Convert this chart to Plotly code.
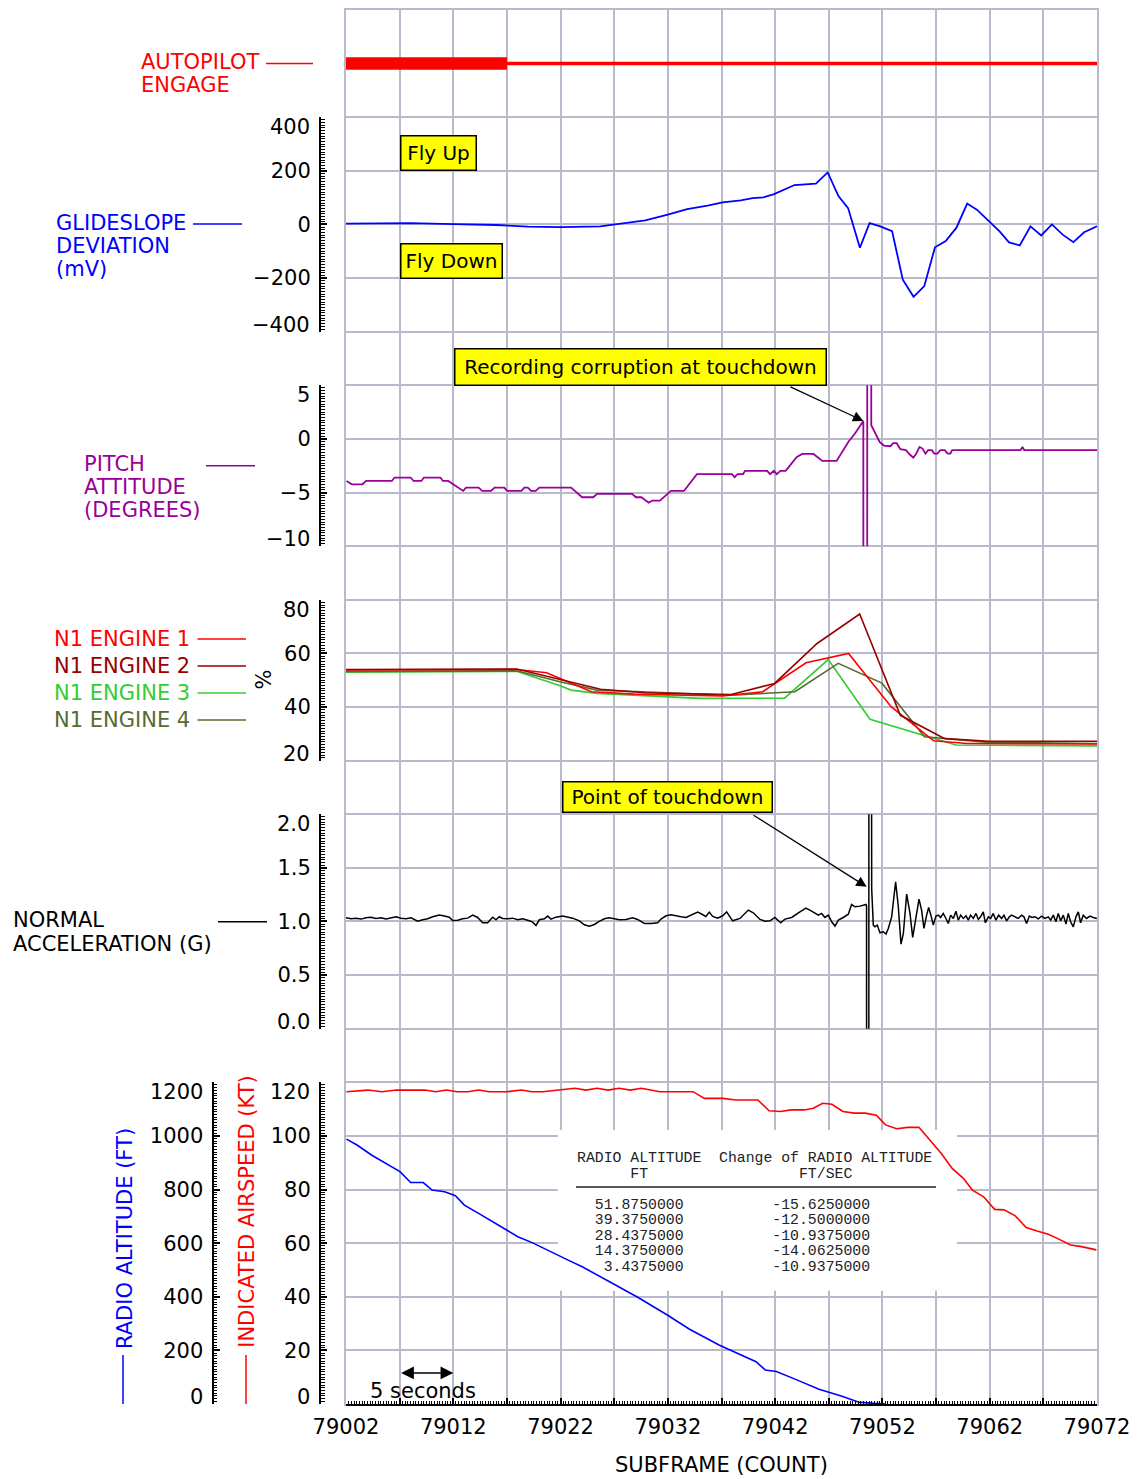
import plotly.graph_objects as go

# ---------------------------------------------------------------- data
subframe_range = [79002, 79072]
subframe_ticks = list(range(79002, 79073, 5))

autopilot_engaged_x = [79002, 79017]
autopilot_off_x = [79017, 79072]
autopilot_level = [1, 1]

gs_x = [79002, 79005, 79008, 79012, 79016, 79019, 79022, 79025.7, 79027, 79029.9, 79031.9,
        79033.8, 79035.7, 79037.1, 79038.8, 79039.9, 79040.9, 79041.9, 79043.8, 79045.8,
        79046.9, 79047.9, 79048.8, 79049.9, 79050.8, 79051.8, 79052.9, 79053.9, 79054.9,
        79055.9, 79056.9, 79057.9, 79058.9, 79059.9, 79060.8, 79061.9, 79062.9, 79063.8,
        79064.8, 79065.8, 79066.8, 79067.8, 79068.8, 79069.8, 79070.8, 79072]
gs_mv = [3, 5, 5, 1, -2, -8, -10, -7, -1, 15, 36,
         57, 70, 82, 90, 98, 101, 113, 147, 152,
         194, 106, 61, -87, 5, -7, -25, -206, -270,
         -230, -85, -62, -12, 78, 55, 15, -25, -67,
         -78, -7, -41, 0, -38, -66, -29, -7]

pitch_x = [79002.04, 79002.54, 79003.54, 79003.87, 79006.27, 79006.53, 79008.03, 79008.30,
           79009.03, 79009.26, 79010.80, 79011.03, 79011.53, 79012.03, 79012.92, 79013.19,
           79014.36, 79014.69, 79015.52, 79015.85, 79016.75, 79017.02, 79018.35, 79018.62,
           79018.95, 79019.25, 79019.68, 79020.02, 79022.98, 79023.33, 79024.01, 79025.05,
           79025.39, 79028.67, 79029.02, 79029.53, 79030.22, 79030.57, 79031.26, 79032.29,
           79033.50, 79034.71, 79037.98, 79038.22, 79038.50, 79039.01, 79039.19, 79041.26,
           79041.53, 79041.88, 79042.15, 79042.50, 79042.98, 79044.02, 79044.53, 79045.57,
           79046.08, 79046.40, 79047.73, 79048.35, 79048.82, 79049.44, 79050.22, 79050.23,
           79050.58, 79050.59, 79050.95, 79050.96, 79051.21, 79051.46, 79051.75, 79052.15,
           79052.75, 79053.00, 79053.33, 79053.67, 79054.19, 79054.53, 79054.88, 79055.12,
           79055.46, 79055.74, 79056.01, 79056.26, 79056.60, 79056.84, 79057.12, 79057.40,
           79057.81, 79058.08, 79058.33, 79058.50, 79064.88, 79065.05, 79065.22, 79072.00]
pitch_deg = [-3.92, -4.23, -4.23, -3.92, -3.92, -3.60, -3.60, -3.92,
             -3.92, -3.60, -3.60, -3.92, -3.92, -4.23, -4.85, -4.54,
             -4.54, -4.85, -4.85, -4.54, -4.54, -4.85, -4.85, -4.54,
             -4.54, -4.85, -4.85, -4.54, -4.54, -4.85, -5.44, -5.44,
             -5.13, -5.13, -5.44, -5.44, -5.94, -5.75, -5.75, -4.85,
             -4.85, -3.29, -3.29, -3.57, -3.29, -3.29, -2.98, -2.98,
             -3.29, -2.98, -3.29, -2.98, -2.98, -1.68, -1.40, -1.40,
             -1.83, -2.05, -2.05, -1.05, -0.28, 0.50, 1.68, -40,
             -40, 40, 40, 1.28, 0.75, 0.25, -0.30, -0.62,
             -0.68, -0.40, -0.40, -0.96, -1.05, -1.43, -1.74, -1.43,
             -0.75, -0.90, -1.37, -1.05, -1.05, -1.37, -1.37, -1.05,
             -1.05, -1.37, -1.37, -1.05, -1.05, -0.75, -1.05, -1.05]

n1_eng1_x = [79002, 79010, 79017.9, 79020.7, 79024.88, 79028.84, 79037.12, 79040.84, 79044.88,
             79048.84, 79052.81, 79056.77, 79059.88, 79072]
n1_eng1 = [53.8, 54.0, 54.0, 52.8, 45.7, 44.8, 44.1, 45.7, 56.5, 60.0, 40.1, 27.4, 26.4, 26.2]
n1_eng2_x = [79002, 79010, 79017.9, 79025.74, 79029.88, 79037.81, 79041.95, 79045.91, 79049.88,
             79053.67, 79057.81, 79061.95, 79072]
n1_eng2 = [54.0, 54.2, 54.2, 46.6, 45.3, 44.6, 48.8, 63.7, 74.7, 36.9, 28.2, 27.2, 27.2]
n1_eng3_x = [79002, 79017.9, 79021.95, 79022.98, 79025.39, 79035.05, 79042.88, 79046.95, 79050.84,
             79055.91, 79058.84, 79072]
n1_eng3 = [53.0, 53.3, 47.9, 46.3, 45.1, 43.2, 43.3, 57.7, 35.4, 29.5, 25.8, 25.5]
n1_eng4_x = [79002, 79017.9, 79021.95, 79025.4, 79037.81, 79043.84, 79047.88, 79051.95, 79055.91,
             79061.95, 79072]
n1_eng4 = [53.3, 53.5, 49.4, 46.3, 44.4, 45.7, 56.3, 48.9, 28.9, 26.8, 26.4]

nz_x = [79002.00, 79002.47, 79002.93, 79003.40, 79003.86, 79004.33, 79004.80, 79005.26, 79005.73,
        79006.19, 79006.66, 79007.13, 79007.59, 79008.06, 79008.68, 79009.15, 79009.61, 79010.08,
        79010.70, 79011.17, 79011.63, 79011.94, 79012.41, 79012.87, 79013.34, 79013.81, 79014.27,
        79014.74, 79015.20, 79015.67, 79015.98, 79016.29, 79016.60, 79017.07, 79017.53, 79018.00,
        79018.47, 79019.09, 79019.40, 79019.71, 79020.02, 79020.49, 79020.80, 79021.11, 79021.57,
        79022.19, 79022.66, 79023.13, 79023.75, 79024.21, 79024.68, 79025.15, 79025.61, 79026.08,
        79026.54, 79027.01, 79027.48, 79028.10, 79028.72, 79029.18, 79029.81, 79030.43, 79031.05,
        79031.36, 79031.83, 79032.29, 79032.76, 79033.22, 79033.69, 79034.16, 79034.78, 79035.09,
        79035.55, 79035.86, 79036.18, 79036.64, 79037.11, 79037.48, 79038.04, 79038.72, 79039.50,
        79039.96, 79040.59, 79041.05, 79041.52, 79041.98, 79042.51, 79042.92, 79043.54, 79044.31,
        79044.87, 79045.40, 79046.02, 79046.33, 79046.64, 79046.96, 79047.27, 79047.58, 79047.89,
        79048.35, 79048.82, 79049.13, 79049.44, 79049.91, 79050.47, 79050.52, 79050.53, 79050.73,
        79050.74, 79050.92, 79051.00, 79051.15, 79051.30, 79051.52, 79051.77, 79052.08, 79052.33,
        79052.55, 79052.86, 79053.23, 79053.48, 79053.73, 79053.95, 79054.26, 79054.57, 79054.82,
        79055.13, 79055.41, 79055.65, 79055.87, 79056.12, 79056.31, 79056.56, 79056.74, 79056.99,
        79057.21, 79057.43, 79057.67, 79057.92, 79058.14, 79058.36, 79058.61, 79058.85, 79059.07,
        79059.29, 79059.54, 79059.79, 79060.00, 79060.22, 79060.47, 79060.72, 79060.94, 79061.15,
        79061.40, 79061.59, 79061.87, 79062.09, 79062.33, 79062.58, 79062.83, 79063.11, 79063.33,
        79063.58, 79063.83, 79064.04, 79064.35, 79064.66, 79064.97, 79065.19, 79065.44, 79065.69,
        79065.94, 79066.22, 79066.53, 79066.84, 79067.15, 79067.46, 79067.68, 79067.93, 79068.17,
        79068.39, 79068.61, 79068.86, 79069.11, 79069.32, 79069.54, 79069.79, 79070.04, 79070.26,
        79070.47, 79070.72, 79071.03, 79071.34, 79071.65, 79071.99]
nz_g = [1.034, 1.025, 1.031, 1.022, 1.034, 1.040, 1.028, 1.034, 1.022,
        1.034, 1.044, 1.031, 1.025, 1.034, 1.003, 1.016, 1.025, 1.044,
        1.059, 1.050, 1.040, 1.009, 1.012, 1.025, 1.031, 1.059, 1.037,
        0.988, 0.988, 1.040, 1.016, 1.044, 1.028, 1.025, 1.031, 1.016,
        1.025, 1.006, 0.994, 0.963, 1.016, 1.025, 1.050, 1.022, 1.040,
        1.050, 1.037, 1.031, 1.006, 0.969, 0.956, 0.972, 1.000, 1.025,
        1.034, 1.022, 1.016, 1.019, 1.034, 1.019, 0.981, 0.981, 0.988,
        1.022, 1.053, 1.062, 1.050, 1.044, 1.037, 1.059, 1.087, 1.072,
        1.047, 1.087, 1.047, 1.031, 1.053, 1.090, 1.006, 1.028, 1.106,
        1.081, 1.019, 1.003, 1.006, 1.037, 0.988, 1.022, 1.037, 1.090,
        1.124, 1.096, 1.059, 1.075, 1.037, 1.059, 0.997, 0.957, 1.012,
        1.037, 1.068, 1.158, 1.137, 1.143, 1.158, 1.140, -3.0, -3.0,
        5.0, 8.0, 1.300, 0.966, 0.950, 0.966, 0.894, 0.904, 0.882,
        0.935, 1.043, 1.370, 1.137, 0.789, 0.888, 1.255, 1.075, 0.851,
        1.043, 1.208, 1.106, 0.935, 1.059, 1.130, 1.043, 0.966, 1.050,
        1.059, 1.037, 1.075, 1.028, 0.981, 1.059, 1.028, 1.096, 1.012,
        1.059, 1.028, 1.053, 1.012, 1.059, 1.028, 1.075, 1.019, 1.043,
        1.090, 0.988, 1.043, 1.028, 1.075, 1.012, 1.059, 1.028, 1.059,
        1.006, 1.043, 1.059, 1.043, 1.028, 1.059, 1.043, 0.981, 1.050,
        1.037, 1.043, 1.025, 1.050, 1.028, 1.043, 1.012, 1.059, 0.997,
        1.075, 1.006, 1.059, 0.975, 1.075, 0.997, 0.950, 1.043, 1.090,
        0.988, 1.059, 1.028, 1.050, 1.037, 1.028]

ias_x = [79002.04, 79004.04, 79005.36, 79006.70, 79009.36, 79010.36, 79011.36, 79012.35, 79013.36,
         79014.36, 79015.36, 79017.01, 79018.35, 79019.34, 79020.35, 79021.67, 79023.33, 79024.36,
         79025.39, 79026.43, 79027.46, 79028.50, 79029.53, 79031.26, 79034.36, 79035.40, 79037.12,
         79038.32, 79040.39, 79041.43, 79042.46, 79043.50, 79044.71, 79045.56, 79046.43, 79047.29,
         79048.32, 79049.36, 79050.39, 79051.43, 79052.29, 79053.33, 79054.36, 79055.40, 79056.43,
         79057.47, 79058.50, 79059.54, 79060.39, 79061.43, 79062.46, 79063.33, 79064.35, 79065.40,
         79066.42, 79067.46, 79068.49, 79069.53, 79070.56, 79071.94]
ias_kt = [116.5, 117.1, 116.5, 117.1, 117.1, 116.5, 117.1, 116.5, 116.5,
          117.1, 116.5, 116.5, 117.1, 116.5, 116.5, 117.1, 117.8, 117.1,
          117.8, 117.1, 117.8, 117.1, 117.8, 116.5, 116.5, 114.0, 114.0,
          113.4, 113.4, 109.4, 109.1, 109.7, 109.7, 110.3, 112.2, 111.8,
          109.1, 108.5, 108.5, 107.7, 104.1, 102.7, 103.2, 103.2, 98.5,
          93.5, 87.9, 84.2, 79.8, 77.3, 72.6, 72.4, 70.3, 65.8,
          64.5, 63.3, 61.4, 59.3, 58.7, 57.5]

ralt_x = [79002.04, 79003.03, 79004.37, 79006.04, 79007.03, 79008.03, 79009.20, 79010.02, 79011.19,
          79012.20, 79013.03, 79014.36, 79015.69, 79017.02, 79018.02, 79019.35, 79020.68, 79021.68,
          79022.90, 79024.02, 79025.39, 79027.12, 79029.19, 79031.95, 79034.02, 79036.77, 79039.19,
          79040.22, 79041.08, 79042.12, 79044.02, 79046.09, 79048.16, 79049.88, 79052.29]
ralt_ft = [988, 966, 929, 892, 867, 826, 826, 798, 792,
           777, 742, 711, 680, 649, 624, 602, 575, 556,
           533, 512, 481, 444, 398, 332, 279, 220, 176,
           158, 127, 121, 90, 55, 30, 6, 0]

table_header_1 = "RADIO ALTITUDE  Change of RADIO ALTITUDE"
table_header_2 = "      FT                 FT/SEC"
table_alt_ft = ["51.8750000", "39.3750000", "28.4375000", "14.3750000", "3.4375000"]
table_rate_fps = ["-15.6250000", "-12.5000000", "-10.9375000", "-14.0625000", "-10.9375000"]

gs_ticks = [-400, -200, 0, 200, 400]
pitch_ticks = [-10, -5, 0, 5]
n1_ticks = [20, 40, 60, 80]
nz_ticks = [0.0, 0.5, 1.0, 1.5, 2.0]
ias_ticks = [0, 20, 40, 60, 80, 100, 120]
alt_ticks = [0, 200, 400, 600, 800, 1000, 1200]

# ---------------------------------------------------------------- geometry / style
W, H = 1140, 1479
PL, PR, PT, PB = 346, 1097, 10, 1404
GRID_N = 26
FONT = "DejaVu Sans"
MONO = "Liberation Mono"
GRID_COLOR = "#b8bacb"
RED, BLUE, PURPLE = "#ff0000", "#0000ff", "#990099"
DKRED, GREEN, OLIVE = "#990000", "#33cc33", "#556b2f"
AX_POS = 320 / PR
ALT_POS = 212.5 / PR
TICKFONT = dict(family=FONT, size=21, color="black")
LINE_GAP = 23


def pxx(px):
    return px / PR


def pxy(py):
    return (PB - py) / (PB - PT)


def tick_text(v, dec=0):
    s = f"{abs(v):.{dec}f}"
    return ("\u2212" + s) if v < 0 else s


def y_axis(dom, ticks, minor, pos, dec=0, **kw):
    rng = [ticks[0], ticks[-1]]
    texts = ["" if v in (rng[0], rng[1]) else tick_text(v, dec) for v in ticks]
    d = dict(domain=[dom[0] / GRID_N, dom[1] / GRID_N], range=rng, anchor="free", position=pos,
             side="left", showline=True, linecolor="black", linewidth=2, showgrid=False,
             zeroline=False, ticks="inside", ticklen=6, tickwidth=1.5, tickcolor="black",
             tickmode="array", tickvals=ticks, ticktext=texts, tickfont=TICKFONT,
             ticklabelstandoff=4, fixedrange=True, automargin=False,
             minor=dict(ticks="inside", ticklen=3.5, tickwidth=1, tickcolor="black",
                        dtick=minor, tick0=rng[0], showgrid=False))
    d.update(kw)
    return d


fig = go.Figure()

# background grid subplot (first so it is drawn underneath)
fig.add_trace(go.Scatter(x=[subframe_range[0]], y=[0], xaxis="x", yaxis="y", mode="markers",
                         marker=dict(opacity=0), hoverinfo="skip", showlegend=False))

def line(x, y, yaxis, color, width):
    fig.add_trace(go.Scatter(x=x, y=y, xaxis="x2", yaxis=yaxis, mode="lines",
                             line=dict(color=color, width=width), hoverinfo="skip",
                             showlegend=False))

line(autopilot_engaged_x, autopilot_level, "y2", RED, 12.5)
line(autopilot_off_x, autopilot_level, "y2", RED, 3.5)
line(gs_x, gs_mv, "y3", BLUE, 1.8)
line(pitch_x, pitch_deg, "y4", PURPLE, 1.8)
line(n1_eng3_x, n1_eng3, "y5", GREEN, 1.6)
line(n1_eng4_x, n1_eng4, "y5", OLIVE, 1.6)
line(n1_eng1_x, n1_eng1, "y5", RED, 1.6)
line(n1_eng2_x, n1_eng2, "y5", DKRED, 1.6)
line(nz_x, nz_g, "y6", "black", 1.5)
line(ias_x, ias_kt, "y7", RED, 1.6)
line(ralt_x, ralt_ft, "y8", BLUE, 1.6)

layout = dict(
    width=W, height=H,
    margin=dict(l=0, r=W - PR, t=PT, b=H - PB, pad=0, autoexpand=False),
    paper_bgcolor="white", plot_bgcolor="rgba(0,0,0,0)",
    showlegend=False,
    xaxis=dict(domain=[PL / PR, 1], range=subframe_range, anchor="y", tickmode="linear",
               tick0=subframe_range[0], dtick=5, showgrid=True, gridcolor=GRID_COLOR,
               gridwidth=1.5, showticklabels=False, ticks="", zeroline=False, automargin=False,
               showline=True, mirror=True, linecolor=GRID_COLOR, linewidth=1.5, fixedrange=True),
    yaxis=dict(domain=[0, 1], range=[0, GRID_N], anchor="x", tickmode="linear", tick0=0, dtick=1,
               showgrid=True, gridcolor=GRID_COLOR, gridwidth=1.5, showticklabels=False, ticks="",
               zeroline=False, showline=True, mirror=True, linecolor=GRID_COLOR, linewidth=1.5,
               fixedrange=True, automargin=False),
    xaxis2=dict(domain=[PL / PR, 1], range=subframe_range, anchor="y7", showline=True,
                linecolor="black", linewidth=2, showgrid=False, zeroline=False, ticks="inside",
                ticklen=6, tickwidth=1.5, tickcolor="black", tickmode="array",
                tickvals=subframe_ticks, automargin=False,
                ticktext=[str(v) if (v - subframe_ticks[0]) % 10 == 0 else "" for v in subframe_ticks],
                tickfont=TICKFONT, ticklabelstandoff=3, fixedrange=True,
                minor=dict(ticks="inside", ticklen=3.5, tickwidth=1, tickcolor="black",
                           dtick=0.25, tick0=subframe_range[0], showgrid=False)),
    yaxis2=dict(domain=[24 / GRID_N, 1], range=[0, 2], anchor="x2", visible=False, fixedrange=True),
    yaxis3=y_axis((20, 24), gs_ticks, 10, AX_POS),
    yaxis4=y_axis((16, 19), pitch_ticks, 0.25, AX_POS),
    yaxis5=y_axis((12, 15), n1_ticks, 1, AX_POS),
    yaxis6=y_axis((7, 11), nz_ticks, 0.025, AX_POS, dec=1),
    yaxis7=y_axis((0, 6), ias_ticks, 1, AX_POS),
    yaxis8=y_axis((0, 6), alt_ticks, 10, ALT_POS, overlaying="y7"),
)
fig.update_layout(**layout)

annotations = []
shapes = []

# end tick labels kept inside the axis brackets
for yref, ticks, dec, xpx in [("y3", gs_ticks, 0, 311), ("y4", pitch_ticks, 0, 311),
                              ("y5", n1_ticks, 0, 311), ("y6", nz_ticks, 1, 311),
                              ("y7", ias_ticks, 0, 311), ("y8", alt_ticks, 0, 203.5)]:
    for v, shift in [(ticks[-1], -10), (ticks[0], 7)]:
        annotations.append(dict(text=tick_text(v, dec), x=pxx(xpx), xref="paper", y=v, yref=yref,
                                xanchor="right", yanchor="middle", yshift=shift, showarrow=False,
                                borderpad=0, font=TICKFONT))


def label(text, px, py, color, xanchor="left", angle=0, size=21):
    annotations.append(dict(text=text, x=pxx(px), y=pxy(py), xref="paper", yref="paper",
                            xanchor=xanchor, yanchor="middle", showarrow=False, textangle=angle,
                            borderpad=0, font=dict(family=FONT, size=size, color=color)))


def stack(lines, px, py, color):
    for k, t in enumerate(lines):
        label(t, px, py + k * LINE_GAP, color)


def seg(x0, y0, x1, y1, color, width=1.5):
    shapes.append(dict(type="line", xref="paper", yref="paper", x0=pxx(x0), y0=pxy(y0),
                       x1=pxx(x1), y1=pxy(y1), line=dict(color=color, width=width), layer="above"))


stack(["AUTOPILOT", "ENGAGE"], 140, 62, RED)
seg(266, 63.6, 313, 63.6, RED)

stack(["GLIDESLOPE", "DEVIATION", "(mV)"], 55, 223, BLUE)
seg(193, 224, 242, 224, BLUE)

stack(["PITCH", "ATTITUDE", "(DEGREES)"], 83, 464, PURPLE)
seg(206, 465.7, 255, 465.7, PURPLE)

for i, (name, col) in enumerate([("N1 ENGINE 1", RED), ("N1 ENGINE 2", DKRED),
                                 ("N1 ENGINE 3", GREEN), ("N1 ENGINE 4", OLIVE)]):
    yy = 639 + i * 27
    label(name, 191, yy, col, xanchor="right")
    seg(197.5, yy, 246, yy, col)
annotations.append(dict(text="%", x=pxx(263.6), y=pxy(680), xref="paper", yref="paper",
                        xanchor="center", yanchor="middle", showarrow=False, textangle=-90,
                        borderpad=0, font=dict(family=FONT, size=21, color="black")))

stack(["NORMAL", "ACCELERATION (G)"], 12, 920.5, "black")
seg(218, 921.7, 267, 921.7, "black")

annotations.append(dict(text="RADIO ALTITUDE (FT)", x=pxx(124.5), y=pxy(1238.5), xref="paper",
                        yref="paper", xanchor="center", yanchor="middle", showarrow=False,
                        borderpad=0, textangle=-90, font=dict(family=FONT, size=21, color=BLUE)))
seg(123, 1404, 123, 1355, BLUE)
annotations.append(dict(text="INDICATED AIRSPEED (KT)", x=pxx(246.8), y=pxy(1211), xref="paper",
                        yref="paper", xanchor="center", yanchor="middle", showarrow=False,
                        borderpad=0, textangle=-90, font=dict(family=FONT, size=21, color=RED)))
seg(246, 1404, 246, 1355, RED)

label("SUBFRAME (COUNT)", 721.5, 1465, "black", xanchor="center")

# yellow callout boxes (background grid coordinates)
def box(text, xc, yc, w, h):
    annotations.append(dict(text=text, x=xc, y=yc, xref="x", yref="y", xanchor="center",
                            yanchor="middle", showarrow=False, bgcolor="#ffff00",
                            bordercolor="black", borderwidth=1.5, borderpad=0, width=w - 3,
                            height=h - 3, font=dict(family=FONT, size=20, color="black")))

box("Fly Up", 79010.61, 23.333, 77, 36)
box("Fly Down", 79011.83, 21.319, 103, 36)
box("Recording corruption at touchdown", 79029.45, 19.342, 373, 38)
box("Point of touchdown", 79031.97, 11.319, 211, 32)

# arrows
peak_i = max(range(len(pitch_deg)), key=lambda i: pitch_deg[i] if pitch_deg[i] < 5 else -99)
annotations.append(dict(text="", x=pitch_x[peak_i], y=pitch_deg[peak_i], xref="x2", yref="y4",
                        ax=79043.29, ay=4.92, axref="x2", ayref="y4", showarrow=True,
                        arrowhead=2, arrowsize=1.6, arrowwidth=1.3, arrowcolor="black", standoff=0))
annotations.append(dict(text="", x=79050.53, y=1.323, xref="x2", yref="y6",
                        ax=79039.84, ay=2.0, axref="x2", ayref="y6", showarrow=True,
                        arrowhead=2, arrowsize=1.6, arrowwidth=1.3, arrowcolor="black", standoff=0))
annotations.append(dict(text="", x=79012, y=11.6, xref="x2", yref="y7",
                        ax=79007, ay=11.6, axref="x2", ayref="y7", showarrow=True,
                        arrowhead=2, arrowside="end+start", arrowsize=1.7, arrowwidth=1.5,
                        arrowcolor="black", standoff=0, startstandoff=0))
annotations.append(dict(text="5 seconds", x=79009.2, y=4.96, xref="x2", yref="y7",
                        xanchor="center", yanchor="middle", showarrow=False, borderpad=0,
                        font=dict(family=FONT, size=21, color="black")))

# table with white background over the grid
shapes.append(dict(type="rect", xref="x2", yref="y7", x0=79021.75, x1=79058.95, y0=42.2, y1=102.2,
                   fillcolor="white", line=dict(width=0), layer="below"))
shapes.append(dict(type="line", xref="paper", yref="paper", x0=pxx(576), x1=pxx(936),
                   y0=pxy(1187), y1=pxy(1187), line=dict(color="#222222", width=1.5),
                   layer="above"))


def mono(text, py):
    annotations.append(dict(text=text.replace(" ", "\u00a0"), x=pxx(576), y=pxy(py), xref="paper",
                            yref="paper", xanchor="left", yanchor="middle", showarrow=False,
                            borderpad=0, font=dict(family=MONO, size=14.8, color="#222222")))


mono(table_header_1, 1158)
mono(table_header_2, 1174)
for i, (a, r) in enumerate(zip(table_alt_ft, table_rate_fps)):
    mono(a.rjust(12) + " " * 10 + r, 1204.7 + i * 15.5)

fig.update_layout(annotations=annotations, shapes=shapes)
fig.write_html("out.html")
